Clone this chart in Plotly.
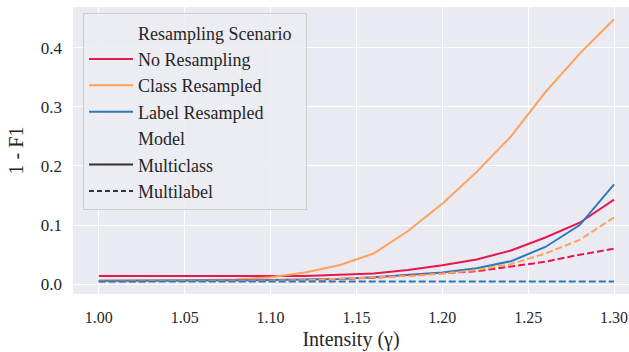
import plotly.graph_objects as go

intensity = [1.00, 1.02, 1.04, 1.06, 1.08, 1.10, 1.12, 1.14, 1.16, 1.18, 1.20, 1.22, 1.24, 1.26, 1.28, 1.30]

multiclass_no = [0.014, 0.014, 0.013, 0.013, 0.013, 0.013, 0.014, 0.016, 0.018, 0.024, 0.032, 0.042, 0.057, 0.079, 0.104, 0.143]
multiclass_class = [0.006, 0.006, 0.006, 0.007, 0.008, 0.012, 0.020, 0.032, 0.052, 0.090, 0.136, 0.190, 0.250, 0.325, 0.390, 0.448]
multiclass_label = [0.006, 0.006, 0.006, 0.006, 0.006, 0.007, 0.008, 0.009, 0.012, 0.016, 0.020, 0.027, 0.039, 0.063, 0.100, 0.169]

multilabel_no = [0.005, 0.005, 0.005, 0.005, 0.005, 0.006, 0.007, 0.009, 0.011, 0.015, 0.018, 0.022, 0.030, 0.038, 0.050, 0.060]
multilabel_class = [0.005, 0.005, 0.005, 0.005, 0.005, 0.006, 0.007, 0.009, 0.011, 0.014, 0.018, 0.024, 0.034, 0.052, 0.075, 0.113]
multilabel_label = [0.0045, 0.0045, 0.0045, 0.0045, 0.0045, 0.0045, 0.0045, 0.0045, 0.0045, 0.0045, 0.0045, 0.004, 0.0045, 0.0045, 0.0045, 0.0045]

scenarios = ["No Resampling", "Class Resampled", "Label Resampled"]
models = ["Multiclass", "Multilabel"]
colors = {"No Resampling": "#e8174d", "Class Resampled": "#ffa15a", "Label Resampled": "#2b7bba"}

data = {
    ("Multiclass", "No Resampling"): multiclass_no,
    ("Multiclass", "Class Resampled"): multiclass_class,
    ("Multiclass", "Label Resampled"): multiclass_label,
    ("Multilabel", "No Resampling"): multilabel_no,
    ("Multilabel", "Class Resampled"): multilabel_class,
    ("Multilabel", "Label Resampled"): multilabel_label,
}
dashes = {"Multiclass": "solid", "Multilabel": "7px,3px"}

FONT = "Liberation Serif"
fig = go.Figure()

for model in models:
    for sc in scenarios:
        fig.add_trace(go.Scatter(
            x=intensity, y=data[(model, sc)], mode="lines",
            line=dict(color=colors[sc], width=2, dash=dashes[model]),
            showlegend=False, hoverinfo="skip"))

def legend_entry(name, color, dash="solid"):
    fig.add_trace(go.Scatter(
        x=[None], y=[None], mode="lines", name=name,
        line=dict(color=color, width=2, dash=dash), showlegend=True))

legend_entry("Resampling Scenario\u00a0\u00a0", "rgba(0,0,0,0)")
for sc in scenarios:
    legend_entry(sc, colors[sc])
legend_entry("Model", "rgba(0,0,0,0)")
legend_entry("Multiclass", "#333333")
legend_entry("Multilabel", "#333333", "5px,3px")

fig.update_layout(
    width=629, height=352,
    margin=dict(l=73, r=0, t=7, b=58),
    paper_bgcolor="white", plot_bgcolor="#eaeaf2",
    font=dict(family=FONT, size=17, color="#262626"),
    showlegend=True,
    legend=dict(
        x=0.018, y=0.978, xanchor="left", yanchor="top",
        bgcolor="rgba(236,236,243,0.85)", bordercolor="#cccccc", borderwidth=1,
        font=dict(family=FONT, size=18, color="#262626"),
        itemwidth=44, traceorder="normal",
    ),
    xaxis=dict(
        range=[0.985, 1.3087],
        tickvals=[1.00, 1.05, 1.10, 1.15, 1.20, 1.25, 1.30],
        ticktext=["1.00", "1.05", "1.10", "1.15", "1.20", "1.25", "1.30"],
        showgrid=True, gridcolor="white", gridwidth=1.3, zeroline=False,
        ticks="", showline=False, automargin=False,
        tickfont=dict(size=16), ticklabelstandoff=12,
        title=dict(text="Intensity (γ)", font=dict(size=20), standoff=6),
    ),
    yaxis=dict(
        range=[-0.0165, 0.4688],
        tickvals=[0.0, 0.1, 0.2, 0.3, 0.4],
        ticktext=["0.0", "0.1", "0.2", "0.3", "0.4"],
        showgrid=True, gridcolor="white", gridwidth=1.3, zeroline=False,
        ticks="", showline=False, automargin=False,
        ticklabelstandoff=10,
        title=dict(text="1 - F1", font=dict(size=20), standoff=11),
    ),
)

fig.write_html(
    "out.html",
    config={"displayModeBar": False},
    post_script="document.body.style.margin='0';document.body.style.overflow='hidden';",
)
